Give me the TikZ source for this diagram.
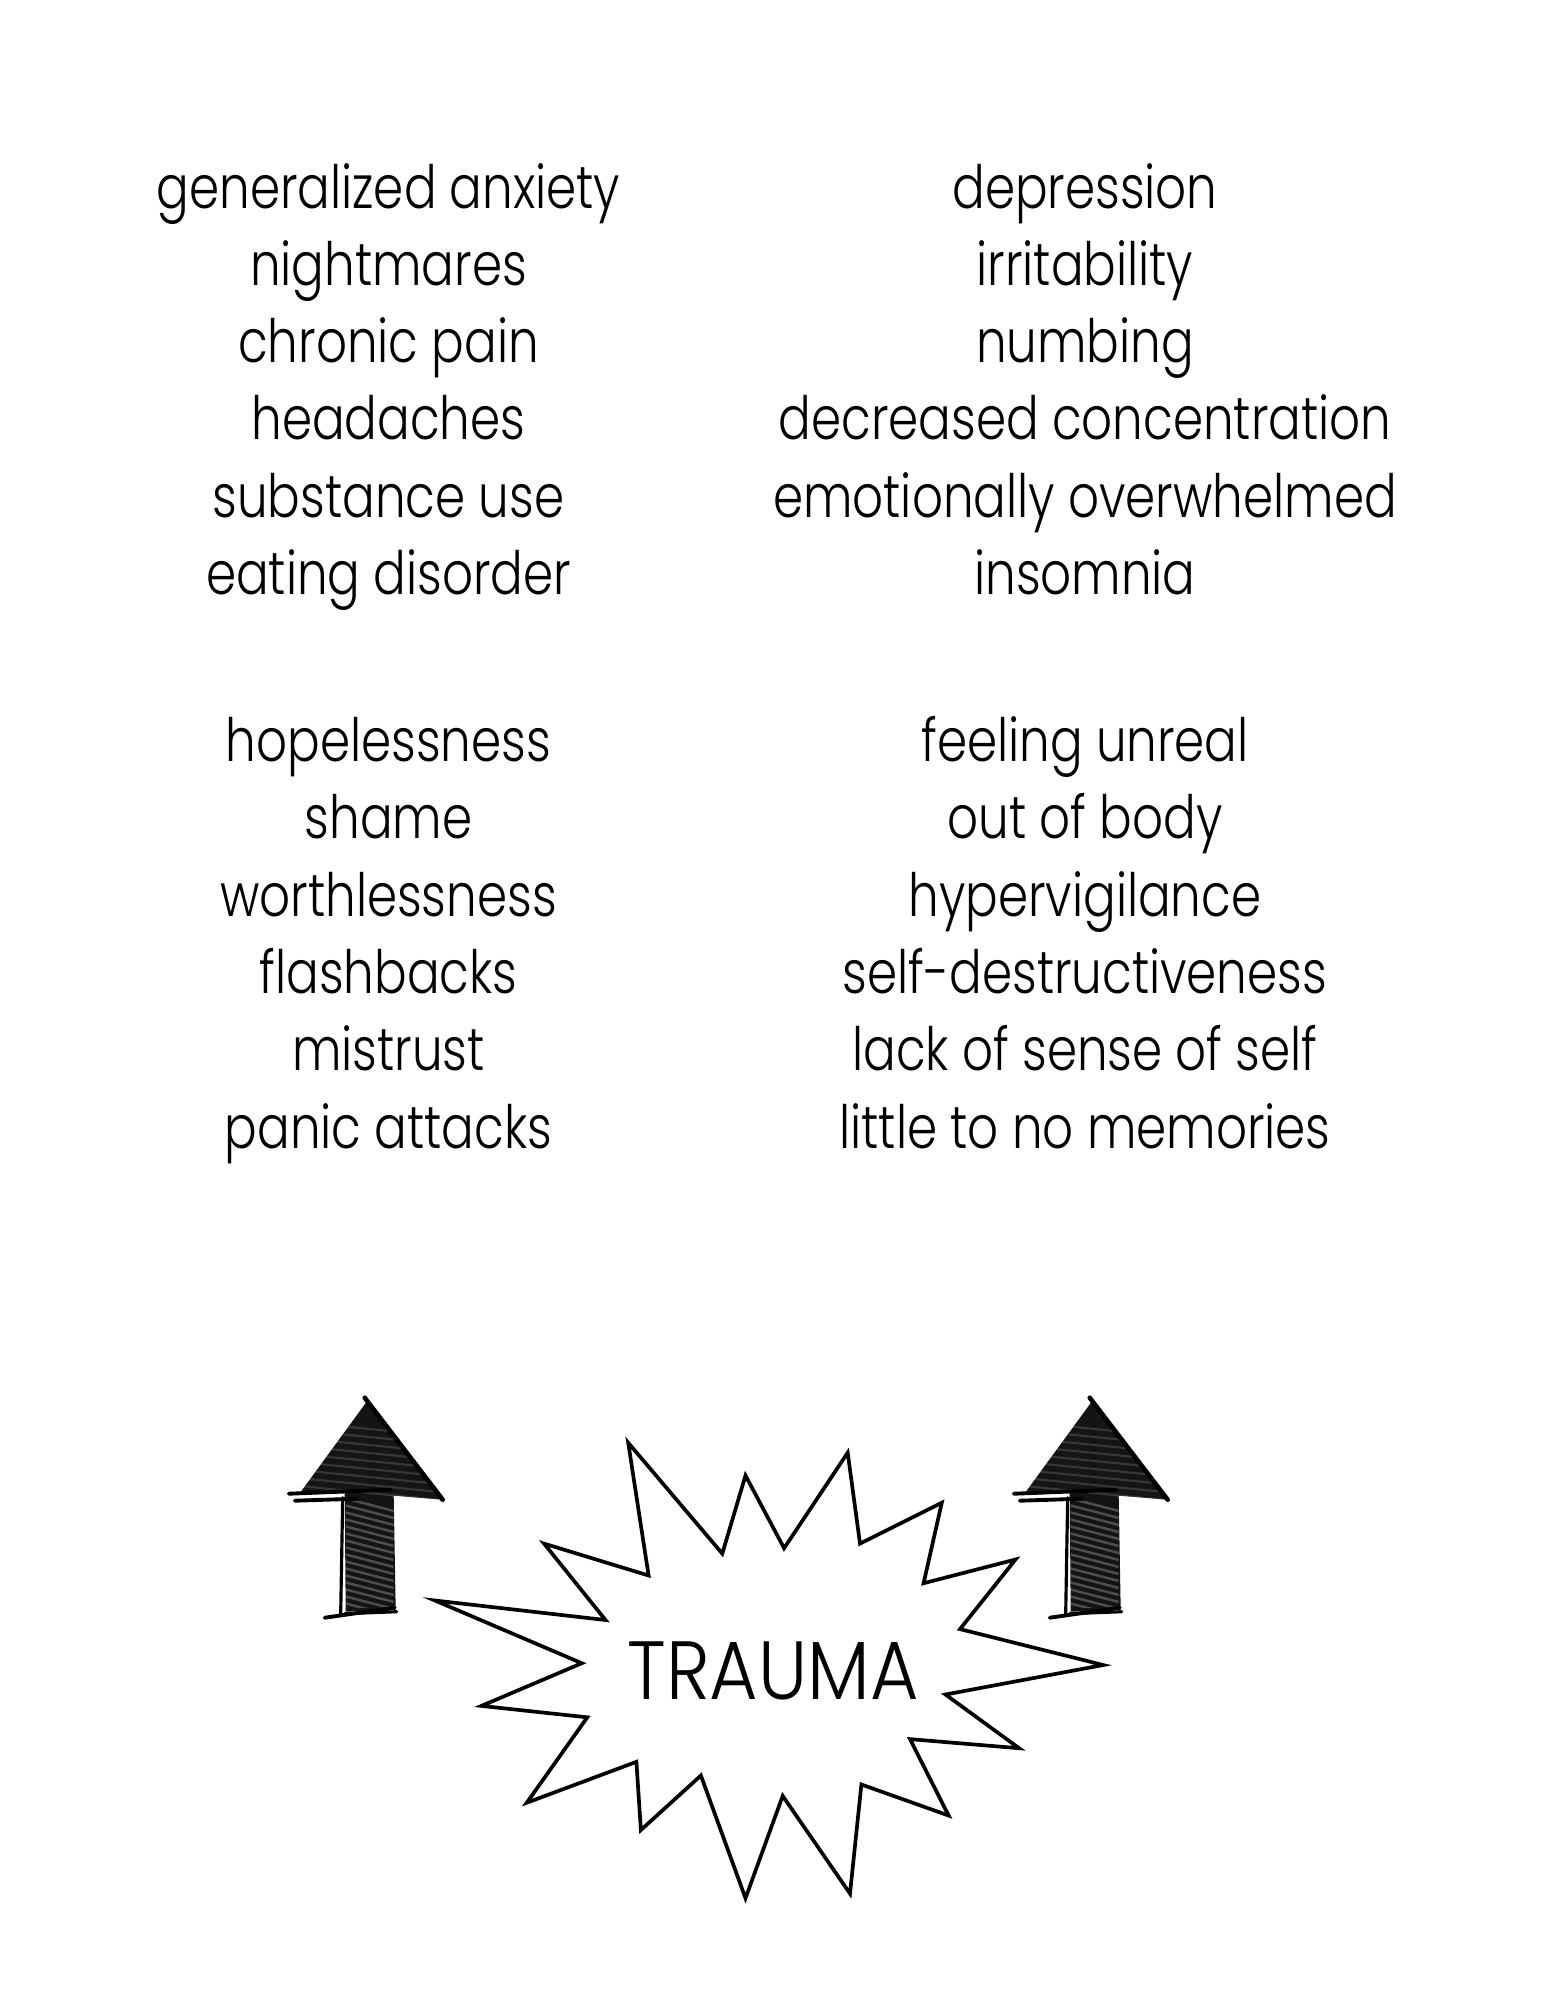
\documentclass[tikz,border=0pt]{standalone}
\usepackage{fontspec}
\IfFontExistsTF{Poppins Light}
  {\newfontfamily\listfont{Poppins Light}[FakeStretch=0.81]\newfontfamily\titlefont{Poppins Light}[FakeStretch=0.9]}
  {\newfontfamily\listfont{Poppins}[FakeStretch=0.81]\newfontfamily\titlefont{Poppins}[FakeStretch=0.9]}
\begin{document}
\begin{tikzpicture}[x=0.1mm,y=-0.1mm,
  lst/.style={anchor=base, inner sep=0pt, font=\listfont\fontsize{17}{21}\selectfont},
  burst/.style={draw=black, line width=1.05pt, line join=miter, fill=white},
  pencilarrow/.pic={
    \fill[black!92] (0,0) -- (75,98) -- (27,94) -- (29,208) -- (-21,210) -- (-22,91) -- (-68,93) -- cycle;
    \begin{scope}
      \clip (-21,100) rectangle (27,206);
      \foreach \k in {0,...,16}
        \draw[white, opacity=0.25, line width=0.7pt] (-24,96+7*\k) -- (30,110+7*\k);
    \end{scope}
    \begin{scope}
      \clip (0,0) -- (75,98) -- (-68,93) -- cycle;
      \foreach \k in {0,...,10}
        \draw[white, opacity=0.15, line width=0.6pt] (-70,20+8*\k) -- (80,35+8*\k);
    \end{scope}
    \draw[black, line width=1.3pt, line cap=round] (-2,-4) -- (76,98);
    \draw[black, line width=1.1pt, line cap=round] (-78,92) -- (24,88);
    \draw[black, line width=1.1pt, line cap=round] (-72,99) -- (-10,97);
    \draw[black, line width=1.1pt, line cap=round] (-42,216) -- (28,206);
    \draw[black, line width=0.9pt, line cap=round] (-24,96) -- (-26,212);
    \draw[black, line width=0.9pt, line cap=round] (-22,212) -- (30,210);
  }]
\useasboundingbox (0,0) rectangle (1545,2000);
\fill[white] (0,0) rectangle (1545,2000);

% left column, block 1
\node[lst] (l1) at (388.5,208) {generalized anxiety};
\node[lst] (l2) at (388.5,285.3) {nightmares};
\node[lst] (l3) at (388.5,362.6) {chronic pain};
\node[lst] (l4) at (388.5,439.9) {headaches};
\node[lst] (l5) at (388.5,517.2) {substance use};
\node[lst] (l6) at (388.5,594.5) {eating disorder};
% right column, block 1
\node[lst] (r1) at (1085,208) {depression};
\node[lst] (r2) at (1085,285.3) {irritability};
\node[lst] (r3) at (1085,362.6) {numbing};
\node[lst] (r4) at (1085,439.9) {decreased concentration};
\node[lst] (r5) at (1085,517.2) {emotionally overwhelmed};
\node[lst] (r6) at (1085,594.5) {insomnia};
% left column, block 2
\node[lst] (l7) at (388.5,761.5) {hopelessness};
\node[lst] (l8) at (388.5,838.8) {shame};
\node[lst] (l9) at (388.5,916.1) {worthlessness};
\node[lst] (l10) at (388.5,993.4) {flashbacks};
\node[lst] (l11) at (388.5,1070.7) {mistrust};
\node[lst] (l12) at (388.5,1148) {panic attacks};
% right column, block 2
\node[lst] (r7) at (1085,761.5) {feeling unreal};
\node[lst] (r8) at (1085,838.8) {out of body};
\node[lst] (r9) at (1085,916.1) {hypervigilance};
\node[lst] (r10) at (1085,993.4) {self-destructiveness};
\node[lst] (r11) at (1085,1070.7) {lack of sense of self};
\node[lst] (r12) at (1085,1148) {little to no memories};

% arrows
\pic (la) at (366.7,1401.7) {pencilarrow};
\pic (ra) at (1091.7,1401.7) {pencilarrow};

% starburst
\draw[burst] (435.0,1600.5) -- (605.5,1620) -- (544.1,1543.6) -- (648.6,1575.5)
  -- (628.2,1442.7) -- (722.3,1553.6) -- (745.5,1475.5) -- (784.1,1548.2)
  -- (847.7,1452.7) -- (860,1543.6) -- (941.8,1502.7) -- (923.6,1583.2)
  -- (1015.5,1559.5) -- (960,1629.1) -- (1103.2,1665) -- (945.5,1694.5)
  -- (1019.1,1748.2) -- (910,1739.1) -- (948.6,1815.5) -- (861.4,1784.5)
  -- (850,1893.6) -- (782.7,1795.9) -- (745.5,1898.2) -- (700.9,1775.5)
  -- (640.9,1830) -- (636.4,1761.8) -- (526.8,1802.7) -- (587.3,1717.3)
  -- (481.4,1705.9) -- (581.8,1663.2) -- cycle;
\node[anchor=base, inner sep=0pt, font=\titlefont\fontsize{23.5}{27}\selectfont] (trauma) at (773,1699) {TRAUMA};
\end{tikzpicture}
\end{document}
